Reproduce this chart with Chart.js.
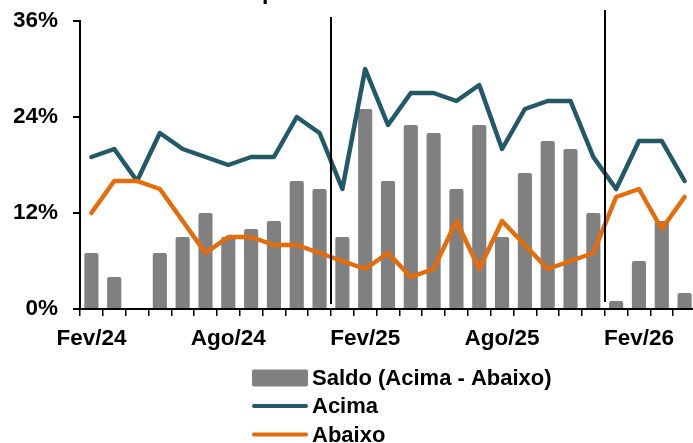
<!DOCTYPE html>
<html lang="pt">
<head>
<meta charset="utf-8">
<title>Acima / Abaixo</title>
<script src="https://cdn.jsdelivr.net/npm/chart.js@4/dist/chart.umd.min.js"></script>
<style>
  html, body { margin: 0; padding: 0; background: #fff; overflow: hidden; }
  #wrap { position: relative; width: 697px; height: 443px; }
</style>
</head>
<body>
<div id="wrap"><canvas id="c"></canvas></div>
<script>
// Meses (Fev/24 a Abr/26)
const months = ['Fev/24','Mar/24','Abr/24','Mai/24','Jun/24','Jul/24','Ago/24','Set/24','Out/24','Nov/24','Dez/24','Jan/25',
                'Fev/25','Mar/25','Abr/25','Mai/25','Jun/25','Jul/25','Ago/25','Set/25','Out/25','Nov/25','Dez/25','Jan/26',
                'Fev/26','Mar/26','Abr/26'];

// Percentual de respostas (%)
const acima  = [19,20,16,22,20,19,18,19,19,24,22,15,30,23,27,27,26,28,20,25,26,26,19,15,21,21,16];
const abaixo = [12,16,16,15,11, 7, 9, 9, 8, 8, 7, 6, 5, 7, 4, 5,11, 5,11, 8, 5, 6, 7,14,15,10,14];
const saldo  = [ 7, 4, 0, 7, 9,12, 9,10,11,16,15, 9,25,16,23,22,15,23, 9,17,21,20,12, 1, 6,11, 2];

// Eixo Y
const yTicks = [0, 12, 24, 36];

// Divisórias de ano: índice do último mês de cada ano
const yearBreaks = [10, 22];

const FONT = "'Liberation Sans', Arial, sans-serif";

const yearLines = {
  id: 'yearLines',
  afterDatasetsDraw(chart) {
    const x = chart.scales.x;
    const ctx = chart.ctx;
    const tops = [17, 10];
    const bottoms = [304, 302];
    ctx.save();
    ctx.strokeStyle = '#000';
    ctx.lineWidth = 2;
    yearBreaks.forEach((i, k) => {
      const px = Math.round((x.getPixelForValue(i) + x.getPixelForValue(i + 1)) / 2);
      ctx.beginPath();
      ctx.moveTo(px, tops[k]);
      ctx.lineTo(px, bottoms[k]);
      ctx.stroke();
    });
    ctx.restore();
  }
};

const sideLegend = {
  id: 'sideLegend',
  afterDraw(chart) {
    const ctx = chart.ctx;
    ctx.save();
    // título (parte superior)
    ctx.font = 'bold 23px ' + FONT;
    ctx.fillStyle = '#000';
    ctx.textAlign = 'center';
    ctx.textBaseline = 'alphabetic';
    ctx.fillText('produtos acabados', 368, -1);

    const x0 = 252, boxW = 56, rows = [378, 406, 434.5];
    ctx.font = 'bold 22px ' + FONT;
    ctx.textAlign = 'left';
    ctx.textBaseline = 'middle';
    chart.data.datasets.forEach((ds, i) => {
      const y = rows[i];
      if (ds.type === 'bar') {
        ctx.fillStyle = ds.backgroundColor;
        ctx.beginPath();
        ctx.roundRect(x0, y - 8.5, boxW, 17, 2);
        ctx.fill();
      } else {
        ctx.strokeStyle = ds.borderColor;
        ctx.lineWidth = 4;
        ctx.lineCap = 'round';
        ctx.beginPath();
        ctx.moveTo(x0 + 2, y);
        ctx.lineTo(x0 + boxW - 2, y);
        ctx.stroke();
      }
      ctx.fillStyle = '#000';
      ctx.fillText(ds.label, x0 + boxW + 4, y + 1);
    });
    ctx.restore();
  }
};

new Chart(document.getElementById('c'), {
  data: {
    labels: months,
    datasets: [
      {
        type: 'bar',
        label: 'Saldo (Acima - Abaixo)',
        data: saldo,
        backgroundColor: '#808080',
        borderRadius: { topLeft: 2, topRight: 2 },
        barPercentage: 0.62,
        categoryPercentage: 1,
        order: 3
      },
      {
        type: 'line',
        label: 'Acima',
        data: acima,
        borderColor: '#215968',
        borderWidth: 4.5,
        borderJoinStyle: 'round',
        borderCapStyle: 'round',
        pointRadius: 0,
        tension: 0,
        order: 2
      },
      {
        type: 'line',
        label: 'Abaixo',
        data: abaixo,
        borderColor: '#E46C0A',
        borderWidth: 4.5,
        borderJoinStyle: 'round',
        borderCapStyle: 'round',
        pointRadius: 0,
        tension: 0,
        order: 1
      }
    ]
  },
  options: {
    responsive: true,
    maintainAspectRatio: false,
    animation: false,
    layout: { padding: { left: 14, top: 21, right: 1, bottom: 92 } },
    plugins: {
      legend: { display: false },
      tooltip: { enabled: false }
    },
    scales: {
      x: {
        type: 'category',
        offset: true,
        grid: {
          offset: true,
          drawOnChartArea: false,
          drawTicks: true,
          tickLength: 7,
          color: '#000',
          lineWidth: 1.5
        },
        border: { display: true, color: '#000', width: 2 },
        ticks: {
          autoSkip: false,
          maxRotation: 0,
          minRotation: 0,
          padding: 9,
          color: '#000',
          font: { family: FONT, size: 22.5, weight: 'bold' },
          callback: (v, i) => (i % 6 === 0 ? months[i] : '')
        },
        afterFit: s => { s.height = 42; s.paddingLeft = 0; s.paddingRight = 0; }
      },
      y: {
        min: yTicks[0],
        max: yTicks[yTicks.length - 1],
        afterBuildTicks: s => { s.ticks = yTicks.map(v => ({ value: v })); },
        grid: {
          drawOnChartArea: false,
          drawTicks: true,
          tickLength: 7,
          color: '#000',
          lineWidth: 2
        },
        border: { display: true, color: '#000', width: 2 },
        ticks: {
          padding: 15,
          color: '#000',
          font: { family: FONT, size: 22.5, weight: 'bold' },
          callback: v => v + '%'
        },
        afterFit: s => { s.width = 66; s.paddingTop = 0; s.paddingBottom = 0; }
      }
    }
  },
  plugins: [yearLines, sideLegend]
});
</script>
</body>
</html>
